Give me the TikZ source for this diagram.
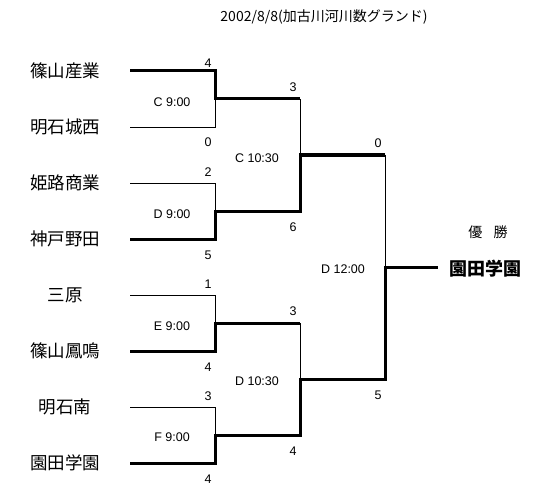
\documentclass[tikz,border=0pt]{standalone}
\usepackage{fontspec}
\setmainfont{Liberation Sans}
\newfontfamily\jp{Noto Sans CJK JP}
\begin{document}
\begin{tikzpicture}[x=1pt,y=-1pt,
  thinln/.style={line width=0.8pt},
  win/.style={line width=3pt,line join=miter},
  team/.style={font=\jp\fontsize{17.5}{17.5}\selectfont,inner sep=0pt},
  score/.style={font=\fontsize{12.5}{13}\selectfont,inner sep=0pt},
  title/.style={font=\jp\fontsize{14}{14}\selectfont,inner sep=0pt},
  champ/.style={font=\jp\bfseries\fontsize{18}{18}\selectfont,inner sep=0pt}]
\useasboundingbox (0,0) rectangle (538,492);
% first-round coordinates
\foreach \i in {1,...,8}{
  \pgfmathsetmacro\yy{71+56*(\i-1)}
  \coordinate (a\i) at (130,\yy);
  \coordinate (b\i) at (215,\yy);
}
\coordinate (m1) at (215,99);  \coordinate (n1) at (300,99);
\coordinate (m2) at (215,211); \coordinate (n2) at (300,211);
\coordinate (m3) at (215,323); \coordinate (n3) at (300,323);
\coordinate (m4) at (215,435); \coordinate (n4) at (300,435);
\coordinate (p1) at (300,155); \coordinate (q1) at (385,155);
\coordinate (p2) at (300,379); \coordinate (q2) at (385,379);
\coordinate (f) at (385,267);  \coordinate (g) at (438,267);
% thin lines
\draw[thinln] (a2) -- (b2) -- (m1);
\draw[thinln] (a3) -- (b3) -- (m2);
\draw[thinln] (a5) -- (b5) -- (m3);
\draw[thinln] (a7) -- (b7) -- (m4);
\draw[thinln] (n1) -- (p1);
\draw[thinln] (n3) -- (p2);
\draw[thinln] (q1) -- (f);
% winning lines
\draw[win] (a1) -- (b1) -- (m1) -- (n1);
\draw[win] (a4) -- (b4) -- (m2) -- (n2) -- (p1) -- (q1);
\draw[win] (a6) -- (b6) -- (m3) -- (n3);
\draw[win] (a8) -- (b8) -- (m4) -- (n4) -- (p2) -- (q2) -- (f) -- (g);
% title
\node[title] (ttl) at (324,17) {2002/8/8(加古川河川数グランド)};
% teams
\node[team] (t1) at (65,71)  {篠山産業};
\node[team] (t2) at (65,127) {明石城西};
\node[team] (t3) at (65,183) {姫路商業};
\node[team] (t4) at (65,239) {神戸野田};
\node[team] (t5) at (65,295) {三原};
\node[team] (t6) at (65,351) {篠山鳳鳴};
\node[team] (t7) at (65,407) {明石南};
\node[team] (t8) at (65,463) {園田学園};
% first-round scores
\node[score] (s1) at (208,63)  {4};
\node[score] (s2) at (208,142) {0};
\node[score] (s3) at (208,172) {2};
\node[score] (s4) at (208,255) {5};
\node[score] (s5) at (208,284) {1};
\node[score] (s6) at (208,367) {4};
\node[score] (s7) at (208,396) {3};
\node[score] (s8) at (208,479) {4};
% second-round scores
\node[score] (r1) at (293,87)  {3};
\node[score] (r2) at (293,227) {6};
\node[score] (r3) at (293,311) {3};
\node[score] (r4) at (293,451) {4};
% third-round scores
\node[score] (u1) at (378,143) {0};
\node[score] (u2) at (378,395) {5};
% match labels
\node[score] (c1) at (172,102) {C 9:00};
\node[score] (c2) at (172,214) {D 9:00};
\node[score] (c3) at (172,326) {E 9:00};
\node[score] (c4) at (172,437) {F 9:00};
\node[score] (d1) at (257,158) {C 10:30};
\node[score] (d2) at (257,381) {D 10:30};
\node[score] (e1) at (343,269) {D 12:00};
% champion
\node[title] (yu) at (488,232) {優\hspace{0.8em}勝};
\node[champ] (ch) at (485,269) {園田学園};
\end{tikzpicture}
\end{document}
